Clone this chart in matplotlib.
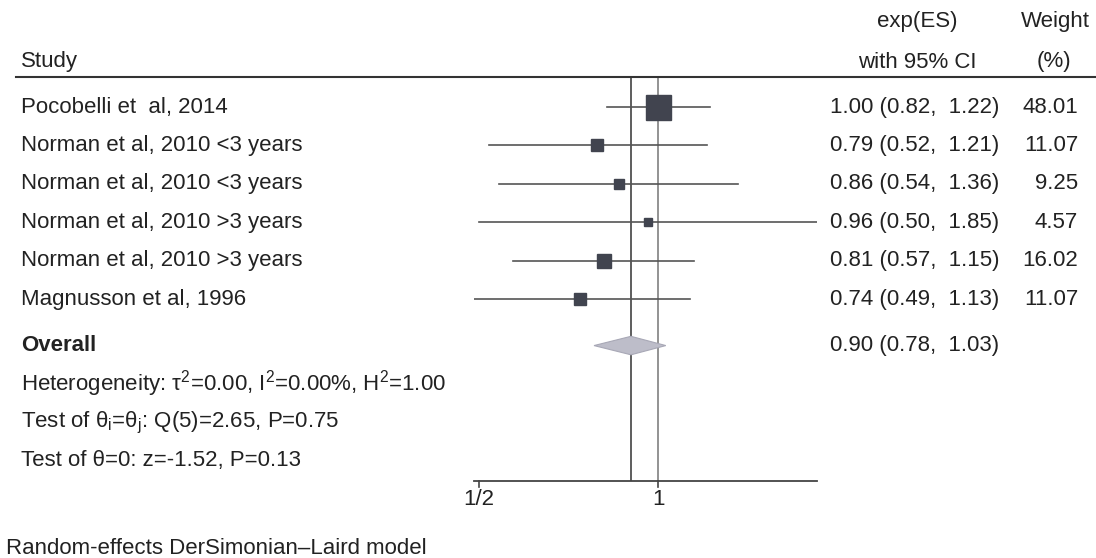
import matplotlib
matplotlib.use("Agg")
import matplotlib.pyplot as plt
import numpy as np
from matplotlib.patches import Polygon

plt.rcParams['font.family'] = ['Liberation Sans', 'DejaVu Sans']
plt.rcParams['mathtext.fontset'] = 'custom'
plt.rcParams['mathtext.rm'] = 'Liberation Sans'
plt.rcParams['mathtext.it'] = 'Liberation Sans:italic'

studies = ['Pocobelli et  al, 2014', 'Norman et al, 2010 <3 years',
           'Norman et al, 2010 <3 years', 'Norman et al, 2010 >3 years',
           'Norman et al, 2010 >3 years', 'Magnusson et al, 1996']
es = [1.00, 0.79, 0.86, 0.96, 0.81, 0.74]
lower = [0.82, 0.52, 0.54, 0.50, 0.57, 0.49]
upper = [1.22, 1.21, 1.36, 1.85, 1.15, 1.13]
weights = [48.01, 11.07, 9.25, 4.57, 16.02, 11.07]

overall_es = 0.90
overall_lo = 0.78
overall_hi = 1.03

stats_lines = ['Heterogeneity: τ$^2$=0.00, I$^2$=0.00%, H$^2$=1.00',
               'Test of θ$_\\mathrm{i}$=θ$_\\mathrm{j}$: Q(5)=2.65, P=0.75',
               'Test of θ=0: z=-1.52, P=0.13']
tick_vals = [0.5, 1]
tick_labels = ['1/2', '1']

W, H = 1096, 558
fig = plt.figure(figsize=(W / 100, H / 100), dpi=100)
txt = '#222222'
fs = 16

# forest panel, placed in pixel terms
top_px, bot_px = 77, 481
left_px, right_px = 474, 817
ax = fig.add_axes([left_px / W, 1 - bot_px / H, (right_px - left_px) / W, (bot_px - top_px) / H])
ax.set_xscale('log')
ax.set_xlim(min(lower), max(upper))
ymin, ymax = -0.78, 9.72
ax.set_ylim(ymax, ymin)
ax.axis('off')

rows = np.arange(len(studies))
overall_row = 6.2
stat_rows = [7.2, 8.2, 9.2]

ax.axvline(overall_es, color='#505050', lw=1.3, zorder=1)
ax.axvline(1, color='#8a8a8a', lw=1.3, zorder=1)

for r, e, lo, hi, w in zip(rows, es, lower, upper, weights):
    ax.plot([lo, hi], [r, r], color='#555555', lw=1.2, zorder=2)
    side = 25 * np.sqrt(w / max(weights))
    ax.plot(e, r, marker='s', markersize=side * 0.72, color='#41444f', mec='#41444f', zorder=3)

dx = [overall_lo, overall_es, overall_hi, overall_es]
dy = [overall_row, overall_row - 0.24, overall_row, overall_row + 0.24]
ax.add_patch(Polygon(list(zip(dx, dy)), closed=True, fc='#bdbdc9', ec='#a8a8b6', lw=0.8, zorder=4))

# x axis drawn by hand at the bottom
ax.plot([min(lower), max(upper)], [ymax, ymax], color='#444444', lw=1.3, clip_on=False)
for tv, tl in zip(tick_vals, tick_labels):
    ax.plot([tv, tv], [ymax, ymax + 0.15], color='#444444', lw=1.2, clip_on=False)
    ax.text(tv, ymax + 0.22, tl, ha='center', va='top', fontsize=fs, color=txt)

# text columns in pixel positions
def ftext(x, y, s, **kw):
    kw.setdefault('fontsize', fs)
    kw.setdefault('color', txt)
    kw.setdefault('va', 'center')
    fig.text(x / W, 1 - y / H, s, **kw)

def row_y(r):
    return top_px + (r - ymin) * (bot_px - top_px) / (ymax - ymin)

def ci_text(e, lo, hi):
    return f'{e:.2f} ({lo:.2f},  {hi:.2f})'

ftext(21, 62, 'Study')
ftext(917, 22, 'exp(ES)', ha='center')
ftext(917, 62, 'with 95% CI', ha='center')
ftext(1055, 22, 'Weight', ha='center')
ftext(1054, 62, '(%)', ha='center')
fig.add_artist(plt.Line2D([16 / W, 1], [1 - 77 / H, 1 - 77 / H], color='#333333', lw=1.5))

for r, name, e, lo, hi, w in zip(rows, studies, es, lower, upper, weights):
    y = row_y(r)
    ftext(21, y, name)
    ftext(830, y, ci_text(e, lo, hi))
    ftext(1078, y, f'{w:.2f}', ha='right')

yo = row_y(overall_row)
ftext(21, yo, 'Overall', fontweight='bold')
ftext(830, yo, ci_text(overall_es, overall_lo, overall_hi))
for r, s in zip(stat_rows, stats_lines):
    ftext(21, row_y(r), s)

ftext(6, 548, 'Random-effects DerSimonian–Laird model')

fig.savefig('out.png', dpi=100, facecolor='white')
